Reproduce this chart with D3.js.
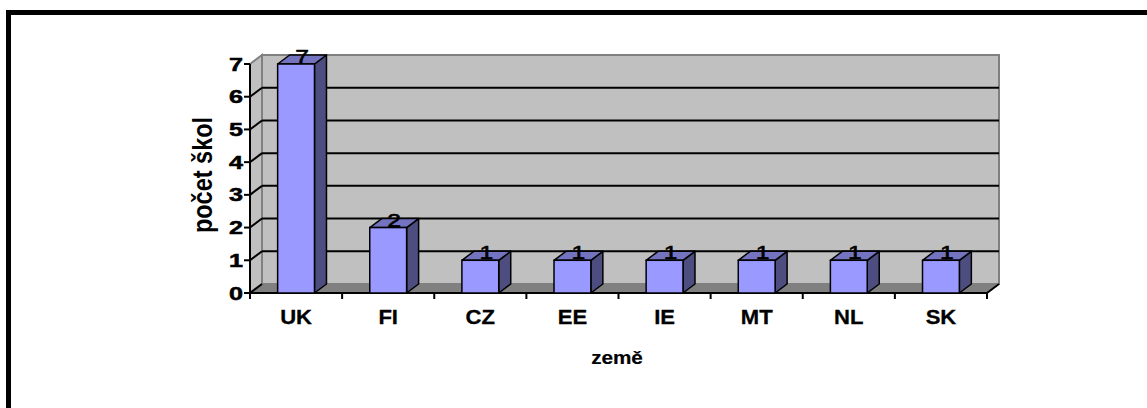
<!DOCTYPE html>
<html>
<head>
<meta charset="utf-8">
<script src="https://cdn.jsdelivr.net/npm/d3@7/dist/d3.min.js"></script>
<style>
  html, body { margin: 0; padding: 0; background: #fff; }
  svg { display: block; }
  text { font-family: "Liberation Sans", Arial, sans-serif; fill: #000; }
</style>
</head>
<body>
<svg id="chart" width="1147" height="408"></svg>
<script>
const categories = ["UK", "FI", "CZ", "EE", "IE", "MT", "NL", "SK"];
const values = [7, 2, 1, 1, 1, 1, 1, 1];
const yTicks = [0, 1, 2, 3, 4, 5, 6, 7];
const xTitle = "země";
const yTitle = "počet škol";

const svg = d3.select("#chart");

// frame
svg.append("rect").attr("x", 8.5).attr("y", 12.5).attr("width", 1200).attr("height", 500)
  .attr("fill", "#fff").attr("stroke", "#000").attr("stroke-width", 5);

const x0 = 250, x1 = 987;
const x = d3.scaleBand().domain(categories).range([x0, x1]).paddingInner(0.6).paddingOuter(0.3);
const y = d3.scaleLinear().domain([0, 7]).range([293, 64]);
const dx = 12, dy = -9;
const yb = y(0), yt = y(7);

const g = svg.append("g");
const poly = pts => pts.map(p => p.join(",")).join(" ");

// back wall
g.append("rect").attr("x", x0 + dx).attr("y", yt + dy).attr("width", x1 - x0).attr("height", yb - yt)
  .attr("fill", "#C0C0C0").attr("stroke", "#808080").attr("stroke-width", 2);
// side wall
g.append("polygon").attr("points", poly([[x0, yt], [x0 + dx, yt + dy], [x0 + dx, yb + dy], [x0, yb]]))
  .attr("fill", "#C0C0C0").attr("stroke", "#808080").attr("stroke-width", 2);
// floor
g.append("polygon").attr("points", poly([[x0, yb], [x1, yb], [x1 + dx, yb + dy], [x0 + dx, yb + dy]]))
  .attr("fill", "#808080").attr("stroke", "#808080").attr("stroke-width", 1);

// gridlines
yTicks.filter(v => v > 0 && v < 7).forEach(v => {
  g.append("line").attr("x1", x0 + dx).attr("x2", x1 + dx).attr("y1", y(v) + dy).attr("y2", y(v) + dy)
    .attr("stroke", "#000").attr("stroke-width", 2);
});
yTicks.filter(v => v < 7).forEach(v => {
  g.append("line").attr("x1", x0).attr("x2", x0 + dx).attr("y1", y(v)).attr("y2", y(v) + dy)
    .attr("stroke", "#000").attr("stroke-width", 2);
});

// x axis line + ticks
g.append("line").attr("x1", x0).attr("x2", x1).attr("y1", yb).attr("y2", yb).attr("stroke", "#000").attr("stroke-width", 2);
g.append("line").attr("x1", x1).attr("x2", x1 + dx).attr("y1", yb).attr("y2", yb + dy).attr("stroke", "#000").attr("stroke-width", 2);
const step = x.step();
d3.range(categories.length + 1).forEach(i => {
  const tx = x0 + i * step;
  g.append("line").attr("x1", tx).attr("x2", tx).attr("y1", yb).attr("y2", yb + 6).attr("stroke", "#000").attr("stroke-width", 2);
});

// y axis
g.append("line").attr("x1", x0).attr("x2", x0).attr("y1", yb + 1).attr("y2", yt).attr("stroke", "#000").attr("stroke-width", 2);
yTicks.forEach(v => {
  g.append("line").attr("x1", x0 - 6).attr("x2", x0).attr("y1", y(v)).attr("y2", y(v)).attr("stroke", "#000").attr("stroke-width", 2);
  g.append("text").attr("transform", `translate(${x0 - 7},${y(v) + 6.5}) scale(1.4,1)`)
    .attr("text-anchor", "end").attr("font-size", 18).attr("font-weight", "bold")
    .attr("stroke", "#000").attr("stroke-width", 0.5).text(v);
});

// bars
const bw = x.bandwidth();
categories.forEach((c, i) => {
  const v = values[i];
  const bx = x(c), by = y(v);
  const bg = g.append("g");
  bg.append("polygon").attr("points", poly([[bx + bw, by], [bx + bw + dx, by + dy], [bx + bw + dx, yb + dy], [bx + bw, yb]]))
    .attr("fill", "#4D4D80").attr("stroke", "#000").attr("stroke-width", 1.5).attr("stroke-linejoin", "round");
  bg.append("polygon").attr("points", poly([[bx, by], [bx + dx, by + dy], [bx + bw + dx, by + dy], [bx + bw, by]]))
    .attr("fill", "#7373BF").attr("stroke", "#000").attr("stroke-width", 1.5).attr("stroke-linejoin", "round");
  bg.append("rect").attr("x", bx).attr("y", by).attr("width", bw).attr("height", yb - by)
    .attr("fill", "#9999FF").attr("stroke", "#000").attr("stroke-width", 1.5);
  bg.append("text").attr("transform", `translate(${bx + bw / 2 + dx / 2},${by - 1}) scale(1.3,1)`)
    .attr("text-anchor", "middle").attr("font-size", 19)
    .attr("stroke", "#000").attr("stroke-width", 0.6).text(v);
  // category label
  g.append("text").attr("transform", `translate(${bx + bw / 2},324) scale(1.05,1)`).attr("text-anchor", "middle")
    .attr("font-size", 21).attr("font-weight", "bold").attr("stroke", "#000").attr("stroke-width", 0.3).text(c);
});

// titles
g.append("text").attr("transform", `translate(617,364) scale(1.15,1)`).attr("text-anchor", "middle")
  .attr("font-size", 18).attr("font-weight", "bold").attr("stroke", "#000").attr("stroke-width", 0.2).text(xTitle);
g.append("text").attr("transform", `translate(212,175) rotate(-90) scale(1,1.2)`).attr("text-anchor", "middle")
  .attr("font-size", 23.5).attr("font-weight", "bold").text(yTitle);
</script>
</body>
</html>
